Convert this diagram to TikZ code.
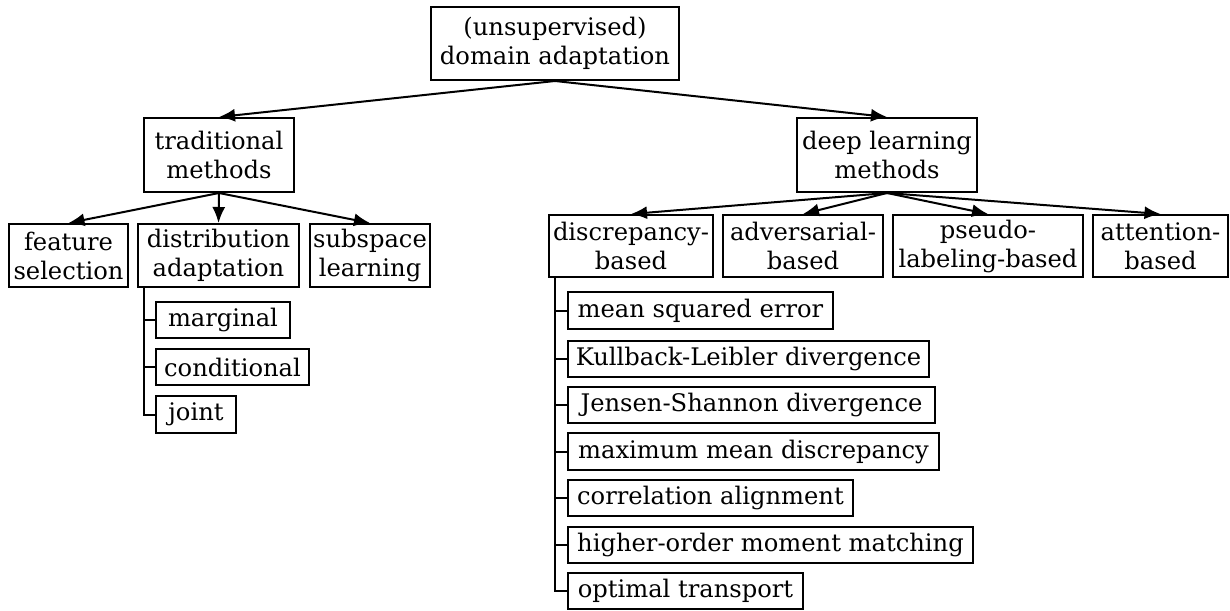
\documentclass[tikz,border=0pt]{standalone}
\usepackage{fontspec}
\setmainfont{DejaVu Serif}
\usetikzlibrary{arrows.meta}

\begin{document}
\begin{tikzpicture}[
  x=0.5pt, y=-0.5pt,
  txt/.style={font={\fontsize{12.1}{14.5}\selectfont}},
  box/.style={draw, line width=1pt, inner sep=0pt, align=center, txt},
  leaf/.style={box, anchor=west, minimum height=18.25pt},
  arr/.style={line width=1pt, -{Latex[length=8pt,width=6.5pt]}},
  tree/.style={line width=1pt}
]
\useasboundingbox (0,0) rectangle (1230,610);

% top level
\node[box, minimum width=124pt, minimum height=36.5pt] (root) at (555,43.5)
  {(unsupervised)\\domain adaptation};

% second level
\node[box, minimum width=75pt, minimum height=37pt] (trad) at (219,155)
  {traditional\\methods};
\node[box, minimum width=90pt, minimum height=37pt] (deep) at (887,155)
  {deep learning\\methods};

% traditional branch
\node[box, minimum width=59.5pt, minimum height=31.5pt] (feat) at (68.5,255.5)
  {feature\\selection};
\node[box, minimum width=80.5pt, minimum height=31.5pt] (distr) at (218.5,255.5)
  {distribution\\adaptation};
\node[box, minimum width=60pt, minimum height=31.5pt] (subsp) at (370,255.5)
  {subspace\\learning};

% deep learning branch
\node[box, minimum width=82pt, minimum height=31pt] (discr) at (631,246)
  {discrepancy-\\based};
\node[box, minimum width=80pt, minimum height=31pt] (adv) at (803,246)
  {adversarial-\\based};
\node[box, minimum width=95pt, minimum height=31pt] (pseudo) at (988,246)
  {pseudo-\\labeling-based};
\node[box, minimum width=67.5pt, minimum height=31pt] (attn) at (1160.5,246)
  {attention-\\based};

% distribution adaptation variants
\node[leaf, minimum width=67pt] (marg) at (155,320) {marginal};
\node[leaf, minimum width=76.5pt] (cond) at (155,367) {conditional};
\node[leaf, minimum width=40pt] (joint) at (155,414.5) {joint};

% discrepancy measures
\node[leaf, minimum width=132.5pt] (mse)  at (567,310.5) {mean squared error};
\node[leaf, minimum width=180.5pt] (kl)   at (567,359)   {Kullback-Leibler divergence};
\node[leaf, minimum width=183.5pt] (js)   at (567,405)   {Jensen-Shannon divergence};
\node[leaf, minimum width=185.5pt] (mmd)  at (567,451.5) {maximum mean discrepancy};
\node[leaf, minimum width=142.5pt] (coral) at (567,498)  {correlation alignment};
\node[leaf, minimum width=202.5pt] (homm) at (567,545)   {higher-order moment matching};
\node[leaf, minimum width=117.5pt] (ot)   at (567,591)   {optimal transport};

% arrows
\draw[arr] (root.south) -- (trad.north);
\draw[arr] (root.south) -- (deep.north);
\draw[arr] (trad.south) -- (feat.north);
\draw[arr] (trad.south) -- (distr.north);
\draw[arr] (trad.south) -- (subsp.north);
\draw[arr] (deep.south) -- (discr.north);
\draw[arr] (deep.south) -- (adv.north);
\draw[arr] (deep.south) -- (pseudo.north);
\draw[arr] (deep.south) -- (attn.north);

% list rails
\coordinate (drail) at ([xshift=3.5pt]distr.south west);
\draw[tree] (drail) |- (joint.west);
\foreach \n in {marg,cond}
  \draw[tree] (\n.west) -- (\n.west -| drail);

\coordinate (mrail) at ([xshift=3.5pt]discr.south west);
\draw[tree] (mrail) |- (ot.west);
\foreach \n in {mse,kl,js,mmd,coral,homm}
  \draw[tree] (\n.west) -- (\n.west -| mrail);
\end{tikzpicture}
\end{document}
